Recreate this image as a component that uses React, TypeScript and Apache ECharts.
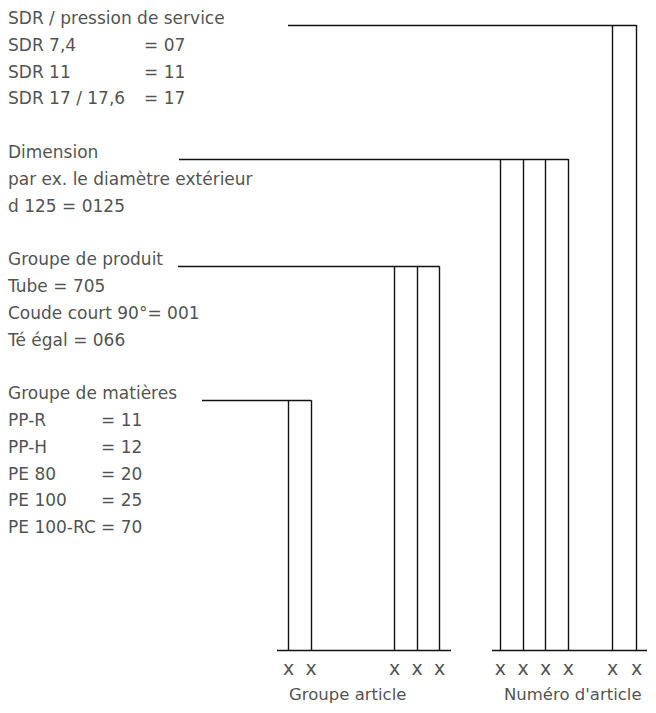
import React, { useEffect, useRef } from "react";
import * as echarts from "echarts";

// Digit positions of the article code (11 digits)
const slotX = [288.7, 311, 394.7, 417, 439.7, 500.3, 523, 545.7, 568.3, 612.7, 636.5];

// Legend rows: [row index, left text, value text]
const sdrRows: [number, string, string][] = [
  [0, "SDR / pression de service", ""],
  [1, "SDR 7,4", "= 07"],
  [2, "SDR 11", "= 11"],
  [3, "SDR 17 / 17,6", "= 17"],
];
const dimRows: [number, string, string][] = [
  [5, "Dimension", ""],
  [6, "par ex. le diamètre extérieur", ""],
  [7, "d 125 = 0125", ""],
];
const prodRows: [number, string, string][] = [
  [9, "Groupe de produit", ""],
  [10, "Tube = 705", ""],
  [11, "Coude court 90°= 001", ""],
  [12, "Té égal = 066", ""],
];
const matRows: [number, string, string][] = [
  [14, "Groupe de matières", ""],
  [15, "PP-R", "= 11"],
  [16, "PP-H", "= 12"],
  [17, "PE 80", "= 20"],
  [18, "PE 100", "= 25"],
  [19, "PE 100-RC", "= 70"],
];

// Groups: title row, slot indices, leader start x, value column x
const groups = [
  { rows: sdrRows, titleRow: 0, slots: [9, 10], leaderStart: 288, valueX: 144 },
  { rows: dimRows, titleRow: 5, slots: [5, 6, 7, 8], leaderStart: 179, valueX: 144 },
  { rows: prodRows, titleRow: 9, slots: [2, 3, 4], leaderStart: 178, valueX: 144 },
  { rows: matRows, titleRow: 14, slots: [0, 1], leaderStart: 202, valueX: 101 },
];

const codeSegments: [number, number][] = [
  [277, 451],
  [492, 647],
];
const codeLabels: [number, string][] = [
  [289, "Groupe article"],
  [504, "Numéro d'article"],
];

const ROW0 = 18;
const ROW_PITCH = 26.8;
const LEADER_OFFSET = 7;
const BASE_Y = 650;
const MARK_Y = 668;
const LABEL_Y = 694;
const TEXT_X = 8;
const FONT = "'DejaVu Sans', 'Noto Sans', sans-serif";

export default function App() {
  const ref = useRef<HTMLDivElement>(null);
  useEffect(() => {
    document.body.style.margin = "0";
    if (!ref.current) return;
    const chart = echarts.init(ref.current, undefined, { renderer: "svg" });

    const rowY = (r: number) => ROW0 + r * ROW_PITCH;

    const segs: { coords: number[][] }[] = [];
    groups.forEach((g) => {
      const ly = rowY(g.titleRow) + LEADER_OFFSET;
      const lastX = slotX[g.slots[g.slots.length - 1]];
      segs.push({ coords: [[g.leaderStart, ly], [lastX, ly]] });
      g.slots.forEach((s) => {
        segs.push({ coords: [[slotX[s], ly], [slotX[s], BASE_Y]] });
      });
    });
    codeSegments.forEach(([a, b]) => segs.push({ coords: [[a, BASE_Y], [b, BASE_Y]] }));

    const texts: [number, number, string][] = [];
    groups.forEach((g) => {
      g.rows.forEach(([r, t, v]) => {
        texts.push([TEXT_X, rowY(r), t]);
        if (v) texts.push([g.valueX, rowY(r), v]);
      });
    });
    const bottomTexts: [number, number, string][] = codeLabels.map(([x, t]) => [x, LABEL_Y, t]);

    const marks: [number, number, string][] = slotX.map((x) => [x, MARK_Y, "x"]);

    const textLabel = (size: number, align: string) => ({
      show: true,
      position: [0, 0],
      align,
      verticalAlign: "middle",
      formatter: (p: any) => p.data[2],
      color: "#222",
      fontSize: size,
      fontFamily: FONT,
    });

    chart.setOption({
      animation: false,
      backgroundColor: "#ffffff",
      grid: { left: 0, right: 0, top: 0, bottom: 0 },
      xAxis: { type: "value", min: 0, max: 656, show: false },
      yAxis: { type: "value", min: 0, max: 713, inverse: true, show: false },
      series: [
        {
          type: "lines",
          coordinateSystem: "cartesian2d",
          data: segs,
          lineStyle: { color: "#111", width: 1.4, opacity: 1 },
          silent: true,
        },
        { type: "scatter", data: texts, symbolSize: 0, silent: true, label: textLabel(17, "left") },
        { type: "scatter", data: bottomTexts, symbolSize: 0, silent: true, label: textLabel(16.5, "left") },
        { type: "scatter", data: marks, symbolSize: 0, silent: true, label: textLabel(19, "center") },
      ],
    });
    return () => chart.dispose();
  }, []);
  return <div ref={ref} style={{ width: 656, height: 713 }} />;
}
